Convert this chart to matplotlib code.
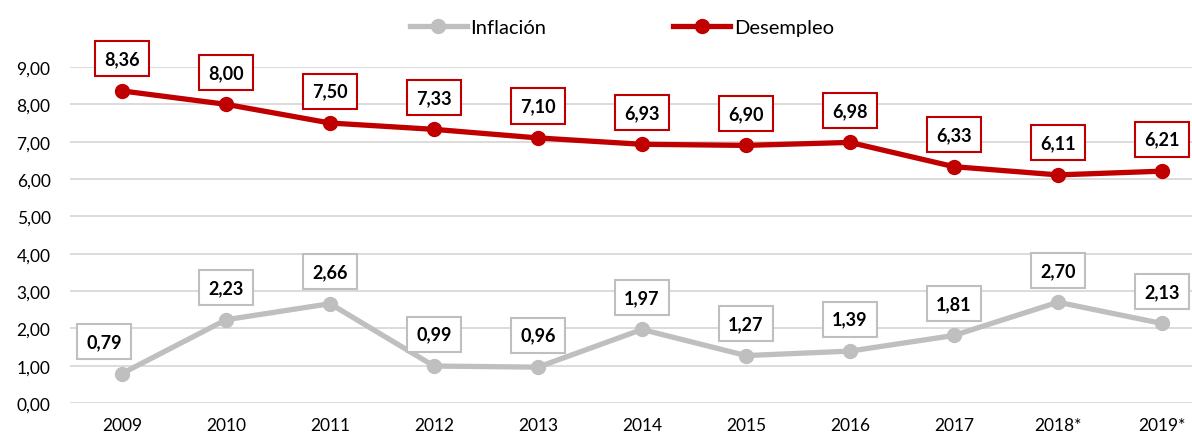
import matplotlib.pyplot as plt

years = ["2009", "2010", "2011", "2012", "2013", "2014", "2015", "2016", "2017", "2018*", "2019*"]
inflacion = [0.79, 2.23, 2.66, 0.99, 0.96, 1.97, 1.27, 1.39, 1.81, 2.70, 2.13]
desempleo = [8.36, 8.00, 7.50, 7.33, 7.10, 6.93, 6.90, 6.98, 6.33, 6.11, 6.21]
yticks = [0, 1, 2, 3, 4, 5, 6, 7, 8, 9]

GRAY = "#BFBFBF"
RED = "#C00000"

plt.rcParams['font.family'] = ['Lato', 'DejaVu Sans']

fig = plt.figure(figsize=(11.92, 4.39), dpi=100)
ax = fig.add_axes([70 / 1192, 1 - 404 / 439, 1 - 70 / 1192, (404 - 68) / 439])

x = list(range(len(years)))
ax.plot(x, inflacion, color=GRAY, lw=3.8, marker='o', ms=10, label="Inflación", zorder=3)
ax.plot(x, desempleo, color=RED, lw=3.8, marker='o', ms=10, label="Desempleo", zorder=3)


def fmt(v):
    return f"{v:.2f}".replace(".", ",")


# data labels in boxes above each point
for i, (a, b) in enumerate(zip(inflacion, desempleo)):
    dx = -13 if i == 0 else 0
    ax.annotate(fmt(a), (i, a), xytext=(dx, 23), textcoords='offset points', ha='center', va='center',
                fontsize=13, fontweight='bold', annotation_clip=False,
                bbox=dict(boxstyle='square,pad=0.5', fc='white', ec=GRAY, lw=1.5))
    ax.annotate(fmt(b), (i, b), xytext=(0, 23), textcoords='offset points', ha='center', va='center',
                fontsize=13, fontweight='bold', annotation_clip=False,
                bbox=dict(boxstyle='square,pad=0.5', fc='white', ec=RED, lw=1.5))

ax.set_xlim(-0.5, (1192 - 122) / 104)
ax.set_ylim(0, 9)
ax.set_yticks(yticks)
ax.set_yticklabels([fmt(v) for v in yticks])
ax.set_xticks(x)
ax.set_xticklabels(years)
ax.grid(axis='y', color='#D9D9D9', lw=1.3)
ax.set_axisbelow(True)
for s in ax.spines.values():
    s.set_visible(False)
ax.tick_params(length=0, labelsize=12.5, colors='#000000')
ax.tick_params(axis='x', pad=10)
ax.tick_params(axis='y', pad=14)

fig.legend(loc='center', bbox_to_anchor=(622 / 1192, 1 - 28 / 439), ncol=2, frameon=False,
           fontsize=14.5, handlelength=2.8, handletextpad=0.2, columnspacing=6.3)

fig.savefig("out.png", dpi=100)
